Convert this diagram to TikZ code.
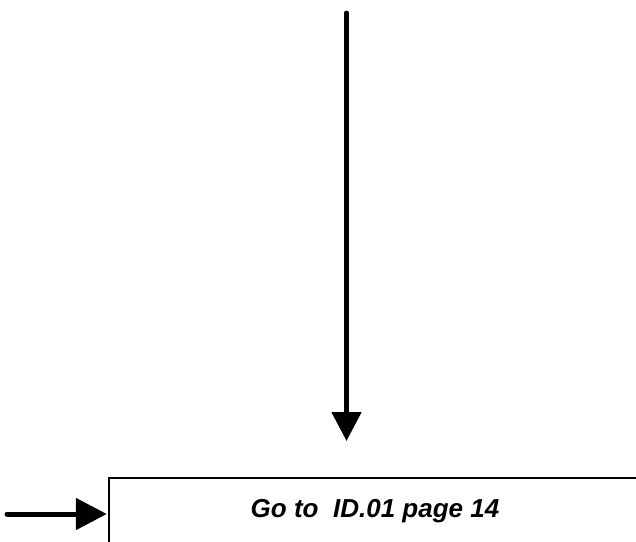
\documentclass[tikz,border=0pt]{standalone}
\usepackage{fontspec}
\setmainfont{Liberation Sans}
\usetikzlibrary{arrows.meta}
\begin{document}
\begin{tikzpicture}[x=1pt,y=-1pt,
  flowline/.style={line width=5pt},
  boxstyle/.style={draw,line width=1.4pt,rectangle,inner sep=0pt},
  lbltext/.style={font=\fontsize{26}{31}\selectfont\bfseries\itshape,inner sep=0pt}]
\useasboundingbox (0,0) rectangle (636,541);
\clip (0,0) rectangle (636,541);
\node[boxstyle,minimum width=532pt,minimum height=110pt] (box) at (375,533) {};
\node[lbltext,anchor=base] (lbl) at (375,517) {Go to\ \ ID.01 page 14};
\coordinate (vtop) at (346.5,13);
\coordinate (vend) at (346.5,441);
\coordinate (hstart) at (7,514);
\draw[flowline,line cap=round,-{Triangle[length=29pt,width=29pt]}] (vtop) -- (vend);
\draw[flowline,line cap=round,-{Triangle[length=31pt,width=31pt]}] (hstart) -- ([xshift=-1.5pt]hstart -| box.west);
\end{tikzpicture}
\end{document}
